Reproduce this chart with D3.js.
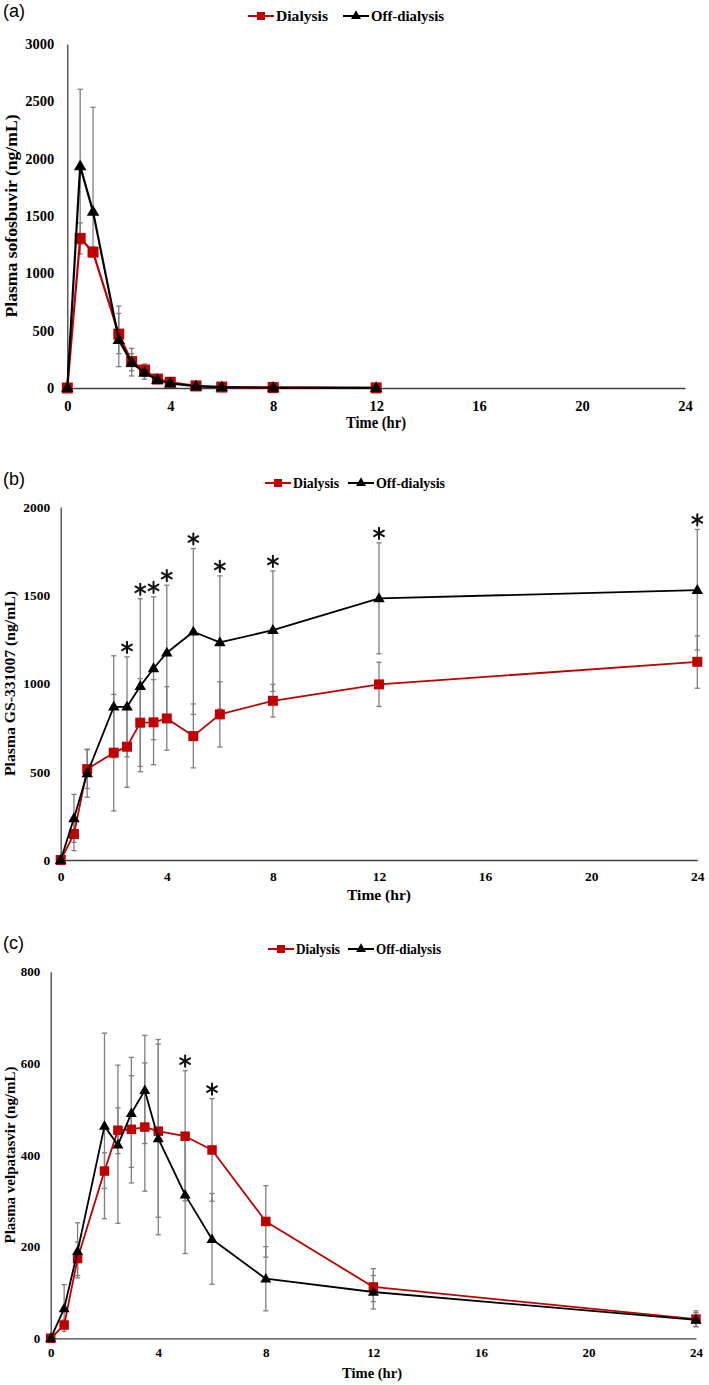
<!DOCTYPE html>
<html><head><meta charset="utf-8">
<script src="https://cdn.jsdelivr.net/npm/d3@7"></script>
<style>
body{margin:0;background:#fff}
svg{display:block}
text{font-family:"Liberation Serif","Times New Roman",serif;font-weight:bold;fill:#000}
</style>
</head><body>
<svg id="chart" width="709" height="1385"></svg>
<script>
// ---------- data ----------
const seriesNames = ["Dialysis", "Off-dialysis"];
const xTicks = [0, 4, 8, 12, 16, 20, 24];

// (a) sofosbuvir
const timeA = [0, 0.5, 1, 2, 2.5, 3, 3.5, 4, 5, 6, 8, 12];
const sofDialysis   = [0, 1305, 1185, 470, 230, 157, 78, 50, 18, 8, 4, 1];
const sofDialysisLo = [0, 1168, 1142, 300, 150, 100, 50, 35, 10, 4, 2, 0];
const sofDialysisHi = [0, 1440, 1230, 715, 346, 209, 110, 65, 25, 12, 6, 2];
const sofOff   = [0, 1935, 1538, 420, 221, 134, 70, 41, 15, 7, 3, 1];
const sofOffLo = [0, 1255, 1200, 186, 105, 76, 40, 25, 8, 3, 1, 0];
const sofOffHi = [0, 2605, 2448, 650, 300, 190, 100, 56, 22, 11, 5, 2];
const yTicksA = [0, 500, 1000, 1500, 2000, 2500, 3000];

// (b) GS-331007
const timeB = [0, 0.5, 1, 2, 2.5, 3, 3.5, 4, 5, 6, 8, 12, 24];
const gsDialysis   = [0, 147, 515, 608, 642, 778, 780, 802, 702, 825, 902, 995, 1123];
const gsDialysisLo = [0, 53, 405, 278, 412, 530, 540, 622, 522, 640, 810, 870, 973];
const gsDialysisHi = [0, 241, 625, 938, 872, 1028, 1022, 982, 884, 1010, 995, 1120, 1270];
const gsOff   = [0, 236, 491, 868, 868, 985, 1085, 1174, 1293, 1233, 1302, 1482, 1529];
const gsOffLo = [0, 100, 356, 579, 585, 500, 682, 791, 825, 856, 955, 1168, 1190];
const gsOffHi = [0, 372, 628, 1157, 1151, 1480, 1491, 1557, 1765, 1610, 1638, 1797, 1873];
const gsStarTimes = [2.5, 3, 3.5, 4, 5, 6, 8, 12, 24];
const yTicksB = [0, 500, 1000, 1500, 2000];

// (c) velpatasvir
const timeC = [0, 0.5, 1, 2, 2.5, 3, 3.5, 4, 5, 6, 8, 12, 24];
const velDialysis   = [0, 29, 174, 365, 454, 456, 461, 452, 441, 411, 255, 112, 42];
const velDialysisLo = [0, 20, 137, 327, 403, 339, 321, 264, 300, 299, 177, 80, 25];
const velDialysisHi = [0, 40, 210, 405, 503, 573, 601, 642, 584, 523, 333, 152, 60];
const velOff   = [0, 65, 190, 463, 422, 491, 541, 436, 313, 216, 130, 101, 40];
const velOffLo = [0, 15, 132, 261, 251, 373, 425, 226, 185, 118, 60, 64, 26];
const velOffHi = [0, 117, 252, 666, 596, 613, 661, 652, 441, 316, 200, 137, 56];
const velStarTimes = [5, 6];
const yTicksC = [0, 200, 400, 600, 800];

// ---------- panels ----------
const panels = [
  {tag: "(a)", ylab: "Plasma sofosbuvir (ng/mL)", t: timeA,
   d: sofDialysis, dLo: sofDialysisLo, dHi: sofDialysisHi,
   o: sofOff, oLo: sofOffLo, oHi: sofOffHi, stars: [], starOn: "off",
   yTicks: yTicksA,
   L: {x0: 67.3, x1: 685, y0: 388, y1: 44, tagY: 17, legY: 16, legX: 248, legX2: 343,
       legFont: 15.5, legW1: 52, legW2: 73, tickFont: 14.5, tickPad: 13, xTickDy: 19,
       titleX: 11, titleLen: 203, titleFont: 16.5, timeX: 376, timeY: 428, timeFont: 16, timeLen: 60,
       mk: 11, lw: 2.2}},
  {tag: "(b)", ylab: "Plasma GS-331007 (ng/mL)", t: timeB,
   d: gsDialysis, dLo: gsDialysisLo, dHi: gsDialysisHi,
   o: gsOff, oLo: gsOffLo, oHi: gsOffHi, stars: gsStarTimes, starOn: "off",
   yTicks: yTicksB,
   L: {x0: 60.7, x1: 697.3, y0: 860, y1: 507, tagY: 485, legY: 483, legX: 265, legX2: 348,
       legFont: 14.5, legW1: 46, legW2: 69, tickFont: 13.5, tickPad: 10.5, xTickDy: 17,
       titleX: 10, titleLen: 185, titleFont: 15.5, timeX: 379, timeY: 900, timeFont: 15.5, timeLen: 64,
       mk: 10, lw: 1.8}},
  {tag: "(c)", ylab: "Plasma velpatasvir (ng/mL)", t: timeC,
   d: velDialysis, dLo: velDialysisLo, dHi: velDialysisHi,
   o: velOff, oLo: velOffLo, oHi: velOffHi, stars: velStarTimes, starOn: "dialysis",
   yTicks: yTicksC,
   L: {x0: 50.7, x1: 696, y0: 1338.3, y1: 971.7, tagY: 949, legY: 949, legX: 268, legX2: 348,
       legFont: 14, legW1: 44, legW2: 65, tickFont: 13, tickPad: 10.5, xTickDy: 15,
       titleX: 10, titleLen: 177, titleFont: 15, timeX: 372, timeY: 1378, timeFont: 15, timeLen: 60,
       mk: 9.5, lw: 1.8}}
];

const RED = "#C00000", BLACK = "#000", GRAY = "#7f7f7f", AXIS = "#404040";
const svg = d3.select("#chart");
const fmt = d3.format("d");

panels.forEach(p => {
  const L = p.L;
  const yMax = p.yTicks[p.yTicks.length - 1];
  const x = d3.scaleLinear().domain([0, 24]).range([L.x0, L.x1]);
  const y = d3.scaleLinear().domain([0, yMax]).range([L.y0, L.y1]);
  const g = svg.append("g");

  // panel tag
  g.append("text").attr("x", 3).attr("y", L.tagY).text(p.tag)
    .style("font-family", "'Liberation Sans', Arial, sans-serif")
    .style("font-weight", "normal").style("font-size", "18px");

  // y axis
  const ya = g.append("g").attr("transform", `translate(${L.x0},0)`)
    .call(d3.axisLeft(y).tickValues(p.yTicks).tickFormat(fmt).tickSizeInner(0).tickSizeOuter(0).tickPadding(L.tickPad));
  ya.select(".domain").attr("stroke", AXIS).attr("stroke-width", 1.3);
  ya.selectAll("text").style("font-size", L.tickFont + "px")
    .style("font-family", "'Liberation Serif', serif").style("font-weight", "bold");

  // x axis
  const xa = g.append("g").attr("transform", `translate(0,${L.y0})`)
    .call(d3.axisBottom(x).tickValues(xTicks).tickFormat(fmt).tickSizeInner(0).tickSizeOuter(0).tickPadding(L.xTickDy - 6));
  xa.select(".domain").attr("stroke", AXIS).attr("stroke-width", 1.3);
  xa.selectAll("text").style("font-size", L.tickFont + "px")
    .style("font-family", "'Liberation Serif', serif").style("font-weight", "bold");

  // axis titles
  const cy = (L.y0 + L.y1) / 2;
  g.append("text").attr("transform", `translate(${L.titleX + L.titleFont * 0.35},${cy}) rotate(-90)`)
    .attr("text-anchor", "middle").attr("textLength", L.titleLen).attr("lengthAdjust", "spacingAndGlyphs")
    .style("font-size", L.titleFont + "px").text(p.ylab);
  g.append("text").attr("x", L.timeX).attr("y", L.timeY).attr("text-anchor", "middle")
    .attr("textLength", L.timeLen).attr("lengthAdjust", "spacingAndGlyphs")
    .style("font-size", L.timeFont + "px").text("Time (hr)");

  // error bars
  const series = [
    {v: p.d, lo: p.dLo, hi: p.dHi, color: RED, shape: d3.symbolSquare},
    {v: p.o, lo: p.oLo, hi: p.oHi, color: BLACK, shape: d3.symbolTriangle}
  ];
  const cap = 2.6;
  series.forEach(s => {
    p.t.forEach((t, i) => {
      if (s.hi[i] - s.lo[i] <= 0) return;
      const xx = x(t);
      g.append("line").attr("x1", xx).attr("x2", xx).attr("y1", y(s.lo[i])).attr("y2", y(s.hi[i]))
        .attr("stroke", GRAY).attr("stroke-width", 1.3);
      [s.lo[i], s.hi[i]].forEach(v => {
        g.append("line").attr("x1", xx - cap).attr("x2", xx + cap).attr("y1", y(v)).attr("y2", y(v))
          .attr("stroke", GRAY).attr("stroke-width", 1.3);
      });
    });
  });

  // lines + markers
  const line = d3.line().x(d => x(d[0])).y(d => y(d[1]));
  series.forEach(s => {
    const pts = p.t.map((t, i) => [t, s.v[i]]);
    g.append("path").attr("d", line(pts)).attr("fill", "none").attr("stroke", s.color)
      .attr("stroke-width", L.lw).attr("stroke-linejoin", "round");
    const area = s.shape === d3.symbolSquare ? L.mk * L.mk : 0.433 * (L.mk + 1.5) * (L.mk + 1.5);
    const sym = d3.symbol().type(s.shape).size(area);
    g.selectAll(null).data(pts).enter().append("path")
      .attr("transform", d => `translate(${x(d[0])},${y(d[1]) + (s.shape === d3.symbolTriangle ? 0.5 : 0)})`)
      .attr("d", sym).attr("fill", s.color);
  });

  // significance stars (drawn as six-spoke asterisks)
  const hiArr = p.starOn === "off" ? p.oHi : p.dHi;
  const R = 5.6;
  p.stars.forEach(t => {
    const i = p.t.indexOf(t);
    const cx = x(t), cyS = y(hiArr[i]) - 9.5;
    const st = g.append("g").attr("transform", `translate(${cx},${cyS})`);
    [90, 30, -30].forEach(a => {
      const r = a * Math.PI / 180;
      st.append("line")
        .attr("x1", -R * Math.cos(r)).attr("y1", -R * Math.sin(r))
        .attr("x2", R * Math.cos(r)).attr("y2", R * Math.sin(r))
        .attr("stroke", "#111").attr("stroke-width", 2).attr("stroke-linecap", "round");
    });
  });

  // legend
  const leg = [
    {name: seriesNames[0], color: RED, shape: d3.symbolSquare, x0: L.legX, w: L.legW1},
    {name: seriesNames[1], color: BLACK, shape: d3.symbolTriangle, x0: L.legX2, w: L.legW2}
  ];
  leg.forEach(l => {
    g.append("line").attr("x1", l.x0).attr("x2", l.x0 + 26).attr("y1", L.legY).attr("y2", L.legY)
      .attr("stroke", l.color).attr("stroke-width", 2);
    const a = l.shape === d3.symbolSquare ? 64 : 0.433 * 100;
    g.append("path").attr("transform", `translate(${l.x0 + 13},${L.legY})`)
      .attr("d", d3.symbol().type(l.shape).size(a)).attr("fill", l.color);
    g.append("text").attr("x", l.x0 + 28).attr("y", L.legY + L.legFont * 0.33)
      .attr("textLength", l.w).attr("lengthAdjust", "spacingAndGlyphs")
      .style("font-size", L.legFont + "px").text(l.name);
  });
});
</script>
</body></html>
